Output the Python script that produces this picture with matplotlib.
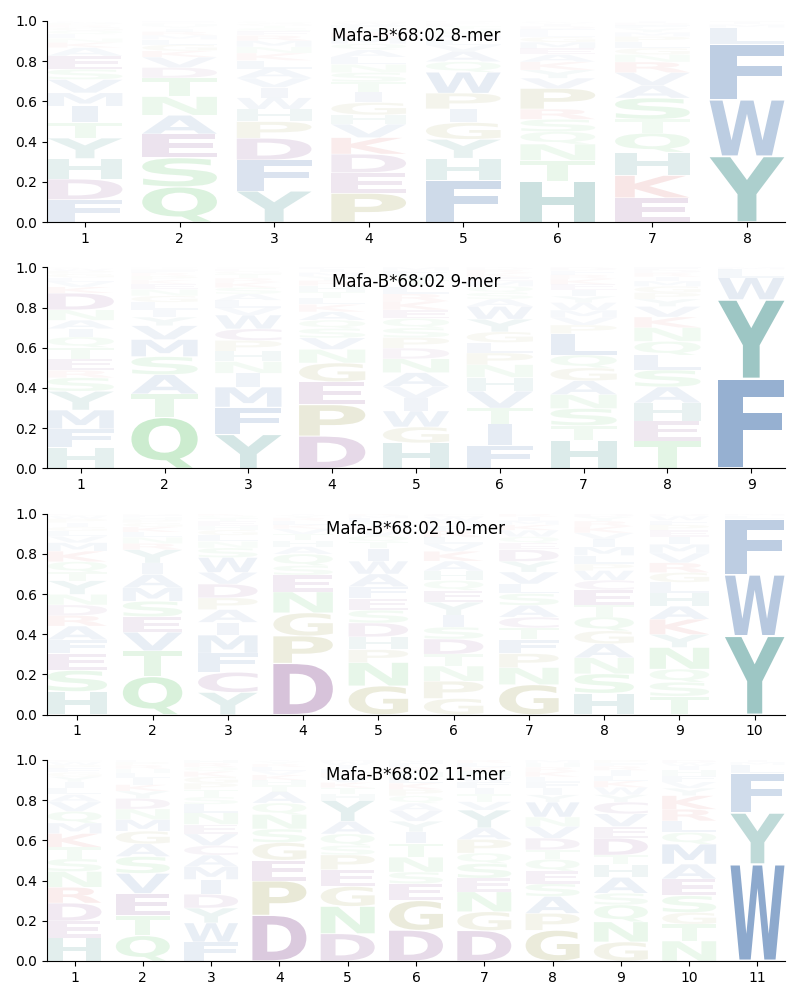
"""
Mafa-B*68:02 结合基序 logo 图（8-11 mer）
"""
import matplotlib
matplotlib.use("Agg")
import matplotlib.pyplot as plt
from matplotlib.textpath import TextPath
from matplotlib.patches import PathPatch
from matplotlib.font_manager import FontProperties
from matplotlib.transforms import Affine2D

ALLELE = "Mafa-B*68:02"

# 每列从下到上 (氨基酸, 频率)
mer8 = [
    [("F", .11), ("D", .10), ("H", .10), ("Y", .10), ("T", .075), ("I", .08), ("M", .065), ("V", .065), ("S", .05),
     ("E", .065), ("A", .04), ("K", .025), ("N", .02), ("L", .02), ("Q", .018), ("G", .015), ("R", .012), ("P", .01),
     ("W", .006), ("C", .004)],
    [("Q", .17), ("S", .14), ("E", .115), ("A", .09), ("N", .09), ("T", .09), ("D", .05), ("V", .05), ("K", .03),
     ("G", .03), ("L", .025), ("M", .02), ("R", .018), ("I", .015), ("Y", .012), ("H", .01), ("P", .008), ("F", .006)],
    [("Y", .15), ("F", .15), ("D", .105), ("P", .08), ("H", .06), ("W", .055), ("I", .05), ("V", .045), ("A", .045),
     ("L", .04), ("K", .035), ("N", .03), ("M", .03), ("R", .025), ("E", .02), ("S", .015), ("T", .012), ("G", .01),
     ("Q", .008), ("C", .005)],
    [("P", .14), ("E", .10), ("D", .09), ("K", .08), ("V", .065), ("H", .045), ("G", .06), ("I", .05), ("T", .05),
     ("S", .045), ("N", .04), ("L", .035), ("A", .035), ("Q", .03), ("M", .03), ("R", .025), ("Y", .02), ("F", .015),
     ("W", .012), ("C", .008)],
    [("F", .20), ("H", .105), ("Y", .09), ("G", .08), ("I", .065), ("P", .075), ("W", .10), ("Q", .05), ("A", .05),
     ("V", .03), ("L", .025), ("M", .02), ("S", .018), ("N", .015), ("T", .012), ("E", .01), ("K", .008), ("D", .006)],
    [("H", .20), ("T", .10), ("N", .08), ("Q", .06), ("S", .06), ("R", .05), ("P", .10), ("V", .05), ("Y", .04),
     ("K", .04), ("A", .035), ("E", .03), ("M", .03), ("G", .025), ("L", .02), ("F", .018), ("D", .015), ("I", .012),
     ("W", .008), ("C", .005)],
    [("E", .115), ("K", .105), ("H", .11), ("Q", .09), ("T", .065), ("S", .10), ("A", .06), ("V", .06), ("R", .05),
     ("N", .035), ("G", .03), ("L", .03), ("P", .025), ("M", .02), ("Y", .018), ("F", .015), ("D", .012), ("I", .008)],
    [("Y", .315), ("W", .27), ("F", .265), ("L", .08), ("M", .015), ("I", .01), ("H", .006)],
]

mer9 = [
    [("H", .10), ("F", .09), ("M", .09), ("Y", .09), ("S", .065), ("R", .035), ("E", .055), ("T", .055), ("Q", .05),
     ("I", .04), ("A", .04), ("N", .05), ("D", .08), ("K", .03), ("V", .025), ("L", .02), ("G", .018), ("P", .015),
     ("W", .01), ("C", .006)],
    [("Q", .24), ("T", .11), ("A", .09), ("S", .085), ("M", .08), ("V", .065), ("Y", .04), ("I", .035), ("L", .035),
     ("G", .03), ("N", .03), ("E", .025), ("K", .02), ("P", .018), ("R", .015), ("F", .012), ("H", .008), ("D", .006)],
    [("Y", .16), ("F", .13), ("M", .095), ("I", .065), ("N", .055), ("H", .05), ("P", .05), ("C", .055), ("W", .065),
     ("V", .035), ("L", .035), ("A", .03), ("S", .03), ("K", .025), ("R", .02), ("T", .018), ("G", .015), ("E", .01),
     ("Q", .008)],
    [("D", .155), ("P", .15), ("E", .11), ("G", .09), ("N", .065), ("V", .055), ("S", .045), ("Q", .04), ("A", .04),
     ("K", .035), ("L", .03), ("T", .03), ("H", .03), ("R", .025), ("Y", .02), ("M", .018), ("I", .015), ("F", .01)],
    [("H", .12), ("G", .075), ("W", .075), ("I", .06), ("V", .055), ("A", .065), ("N", .065), ("D", .05), ("P", .05),
     ("S", .045), ("Q", .045), ("E", .04), ("K", .04), ("R", .035), ("L", .035), ("T", .03), ("Y", .025), ("F", .02),
     ("M", .015)],
    [("F", .11), ("I", .10), ("T", .075), ("V", .08), ("H", .065), ("N", .06), ("P", .055), ("L", .05), ("G", .05),
     ("Y", .06), ("W", .06), ("A", .035), ("S", .03), ("Q", .03), ("M", .025), ("E", .02), ("K", .018), ("R", .015),
     ("D", .012)],
    [("H", .13), ("T", .07), ("S", .08), ("N", .065), ("A", .065), ("G", .06), ("Q", .06), ("L", .10), ("P", .04),
     ("V", .035), ("M", .035), ("W", .035), ("Y", .03), ("I", .03), ("E", .025), ("K", .025), ("R", .02), ("F", .02),
     ("D", .015)],
    [("T", .13), ("E", .095), ("H", .085), ("A", .075), ("S", .08), ("L", .07), ("Q", .065), ("N", .065), ("K", .05),
     ("V", .05), ("Y", .035), ("P", .03), ("G", .03), ("M", .025), ("I", .02), ("R", .018), ("D", .015), ("F", .012)],
    [("F", .43), ("Y", .38), ("W", .105), ("L", .04), ("M", .01)],
]

mer10 = [
    [("H", .11), ("S", .10), ("E", .08), ("F", .065), ("A", .065), ("R", .05), ("D", .05), ("N", .05), ("Y", .065),
     ("T", .04), ("Q", .05), ("K", .05), ("M", .04), ("V", .03), ("L", .025), ("G", .02), ("I", .02), ("P", .018),
     ("W", .015), ("C", .01)],
    [("Q", .185), ("T", .125), ("V", .09), ("E", .075), ("S", .075), ("M", .065), ("A", .065), ("I", .055), ("Y", .065),
     ("R", .03), ("N", .03), ("L", .025), ("K", .025), ("G", .02), ("P", .015), ("H", .012), ("F", .01), ("D", .008)],
    [("Y", .105), ("C", .095), ("F", .09), ("M", .085), ("I", .06), ("A", .06), ("P", .055), ("D", .065), ("V", .055),
     ("W", .07), ("S", .045), ("N", .03), ("L", .03), ("G", .025), ("H", .02), ("E", .02), ("T", .015), ("Q", .012),
     ("K", .01)],
    [("D", .245), ("P", .13), ("G", .11), ("N", .10), ("E", .08), ("S", .045), ("Q", .055), ("A", .035), ("H", .03),
     ("T", .03), ("V", .025), ("K", .02), ("L", .018), ("R", .015), ("Y", .012), ("I", .008)],
    [("G", .135), ("N", .11), ("P", .06), ("H", .06), ("D", .065), ("S", .06), ("E", .055), ("F", .055), ("A", .06),
     ("W", .06), ("I", .06), ("T", .03), ("Q", .028), ("V", .025), ("K", .02), ("Y", .02), ("L", .018), ("M", .012),
     ("R", .01)],
    [("G", .075), ("P", .08), ("N", .07), ("T", .055), ("D", .07), ("S", .055), ("I", .055), ("Y", .06), ("E", .055),
     ("Q", .045), ("H", .045), ("A", .045), ("K", .045), ("V", .035), ("L", .03), ("R", .03), ("F", .025), ("M", .02),
     ("W", .02), ("C", .015)],
    [("G", .14), ("N", .08), ("P", .065), ("F", .065), ("T", .055), ("C", .05), ("A", .055), ("S", .055), ("L", .045),
     ("V", .055), ("Y", .05), ("D", .055), ("E", .03), ("Q", .03), ("W", .03), ("K", .025), ("M", .02), ("I", .018),
     ("R", .015)],
    [("H", .10), ("S", .09), ("N", .075), ("A", .065), ("G", .06), ("Q", .065), ("T", .055), ("E", .07), ("C", .045),
     ("W", .045), ("P", .03), ("L", .04), ("M", .04), ("I", .035), ("V", .03), ("K", .03), ("R", .025), ("Y", .02),
     ("D", .015)],
    [("T", .085), ("S", .065), ("Q", .06), ("N", .10), ("Y", .06), ("K", .07), ("A", .06), ("H", .06), ("L", .05),
     ("G", .045), ("R", .045), ("V", .045), ("M", .04), ("I", .035), ("E", .03), ("P", .025), ("F", .02), ("W", .02),
     ("D", .012)],
    [("Y", .38), ("W", .295), ("F", .27), ("L", .015), ("M", .01)],
]

mer11 = [
    [("H", .11), ("E", .08), ("D", .085), ("R", .075), ("N", .075), ("S", .06), ("T", .055), ("K", .065), ("M", .05),
     ("Q", .055), ("V", .045), ("A", .035), ("L", .03), ("I", .03), ("Y", .025), ("G", .02), ("F", .02), ("P", .015),
     ("W", .015), ("C", .01)],
    [("Q", .12), ("T", .095), ("E", .105), ("V", .095), ("S", .08), ("A", .06), ("G", .06), ("M", .055), ("N", .05),
     ("D", .05), ("Y", .035), ("K", .03), ("I", .03), ("L", .025), ("H", .02), ("R", .018), ("P", .015), ("F", .01)],
    [("F", .09), ("W", .09), ("Y", .07), ("D", .065), ("I", .07), ("M", .06), ("A", .055), ("C", .045), ("V", .055),
     ("E", .045), ("N", .055), ("L", .04), ("S", .035), ("T", .035), ("P", .03), ("G", .03), ("K", .025), ("Q", .02),
     ("R", .02), ("H", .015)],
    [("D", .22), ("P", .165), ("E", .10), ("G", .085), ("S", .065), ("N", .07), ("Q", .055), ("A", .055), ("T", .03),
     ("H", .025), ("K", .025), ("V", .02), ("L", .018), ("R", .015), ("Y", .012), ("I", .008)],
    [("D", .13), ("N", .13), ("G", .095), ("E", .08), ("P", .07), ("S", .045), ("Q", .055), ("A", .06), ("Y", .10),
     ("H", .03), ("T", .03), ("K", .025), ("V", .025), ("R", .02), ("L", .02), ("I", .018), ("W", .015), ("M", .01)],
    [("D", .145), ("G", .14), ("E", .08), ("S", .055), ("N", .07), ("T", .065), ("I", .055), ("Y", .05), ("V", .05),
     ("A", .035), ("Q", .035), ("P", .03), ("K", .03), ("L", .03), ("H", .025), ("R", .02), ("F", .02), ("M", .015)],
    [("D", .145), ("G", .09), ("N", .095), ("E", .065), ("S", .07), ("Q", .05), ("P", .065), ("A", .055), ("Y", .085),
     ("V", .04), ("T", .035), ("I", .03), ("F", .03), ("W", .025), ("H", .025), ("K", .02), ("L", .02), ("R", .015)],
    [("G", .145), ("P", .08), ("A", .08), ("S", .06), ("E", .06), ("Q", .055), ("T", .045), ("D", .055), ("V", .055),
     ("N", .045), ("W", .07), ("Y", .035), ("I", .03), ("F", .03), ("L", .025), ("K", .025), ("R", .02), ("H", .02),
     ("M", .015)],
    [("G", .09), ("N", .095), ("Q", .08), ("S", .055), ("A", .075), ("H", .06), ("T", .045), ("D", .08), ("E", .055),
     ("V", .06), ("C", .055), ("Y", .035), ("W", .035), ("K", .03), ("L", .025), ("I", .025), ("R", .02), ("F", .015),
     ("P", .015)],
    [("N", .095), ("T", .08), ("G", .055), ("S", .08), ("E", .08), ("A", .07), ("M", .095), ("Q", .055), ("L", .055),
     ("R", .055), ("K", .065), ("Y", .035), ("V", .03), ("F", .03), ("H", .025), ("I", .02), ("W", .015), ("D", .015)],
    [("W", .465), ("Y", .245), ("F", .19), ("L", .04), ("M", .015), ("I", .01)],
]

motifs = [("8-mer", mer8), ("9-mer", mer9), ("10-mer", mer10), ("11-mer", mer11)]

# 按理化性质分组上色
AA_COLORS = {}
for aa in "AFILMVW":
    AA_COLORS[aa] = (20 / 255, 78 / 255, 153 / 255)
for aa in "YH":
    AA_COLORS[aa] = (5 / 255, 110 / 255, 105 / 255)
for aa in "DEC":
    AA_COLORS[aa] = (100 / 255, 22 / 255, 112 / 255)
for aa in "KR":
    AA_COLORS[aa] = (200 / 255, 30 / 255, 30 / 255)
for aa in "GP":
    AA_COLORS[aa] = (125 / 255, 125 / 255, 20 / 255)
for aa in "NQST":
    AA_COLORS[aa] = (55 / 255, 184 / 255, 68 / 255)

FONT = FontProperties(family="DejaVu Sans", weight="bold")
COL_W = 0.79


def draw_letter(ax, letter, x, y0, h):
    """把字母拉伸填满 [x-w/2, x+w/2] x [y0, y0+h]"""
    path = TextPath((0, 0), letter, size=1, prop=FONT)
    ext = path.get_extents()
    w = COL_W * (0.36 if letter == "I" else 1.0)
    hh = h * 0.97
    tr = (Affine2D()
          .translate(-ext.x0, -ext.y0)
          .scale(w / ext.width, hh / ext.height)
          .translate(x - w / 2, y0 + (h - hh) / 2))
    patch = PathPatch(tr.transform_path(path), facecolor=AA_COLORS[letter], edgecolor="none",
                      alpha=min(1.0, h), lw=0)
    ax.add_patch(patch)


fig, axes = plt.subplots(4, 1, figsize=(8, 10), dpi=100)
fig.subplots_adjust(left=0.059, right=0.981, top=0.979, bottom=0.039, hspace=0.224)

for ax, (name, cols) in zip(axes, motifs):
    for i, col in enumerate(cols):
        # 频率归一化，每列总和为 1
        total = sum(h for _, h in col)
        y = 0.0
        for letter, h in col:
            h = h / total
            draw_letter(ax, letter, i + 1, y, h)
            y += h
    n = len(cols)
    ax.set_xlim(0.6, n + 0.4)
    ax.set_ylim(0, 1)
    ax.set_xticks(range(1, n + 1))
    ax.set_yticks([0, 0.2, 0.4, 0.6, 0.8, 1.0])
    ax.spines["top"].set_visible(False)
    ax.spines["right"].set_visible(False)
    ax.text(0.5, 0.925, f"{ALLELE} {name}", transform=ax.transAxes, ha="center", va="center", fontsize=12)

fig.savefig("out.png", dpi=100)
